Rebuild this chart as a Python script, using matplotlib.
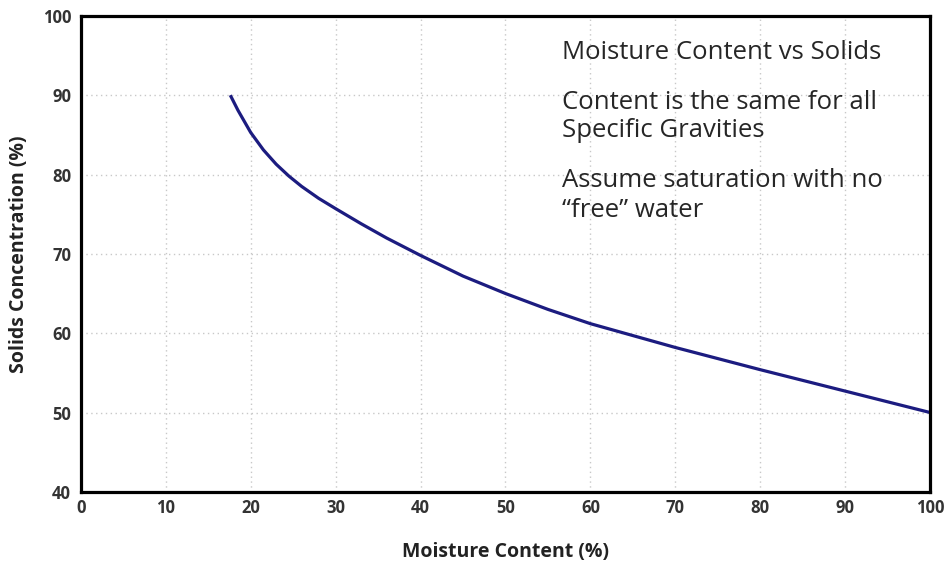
import numpy as np
import matplotlib.pyplot as plt

plt.rcParams['font.family'] = ['Open Sans', 'DejaVu Sans']

# values
moisture = [17.6, 18.5, 20, 21.5, 23, 24.5, 26, 28, 30, 33, 36, 40, 45, 50, 55, 60, 70, 80, 90, 100]
solids = [90, 88.1, 85.3, 83.1, 81.3, 79.8, 78.5, 77.0, 75.7, 73.8, 72.0, 69.8, 67.2, 65.0, 63.0, 61.2, 58.2, 55.4, 52.7, 50]

notes = ['Moisture Content vs Solids',
         'Content is the same for all',
         'Specific Gravities',
         'Assume saturation with no',
         '\u201cfree\u201d water']
note_y = [94.6, 88.3, 84.7, 78.4, 74.6]

fig = plt.figure(figsize=(9.51, 5.66), dpi=100)
ax = fig.add_axes([0.085, 0.131, 0.893, 0.841])

ax.plot(moisture, solids, color='#1c1c80', linewidth=2.3, solid_capstyle='butt', solid_joinstyle='round')

ax.set_xlim(0, 100)
ax.set_ylim(40, 100)
ax.set_xticks(np.arange(0, 101, 10))
ax.set_yticks(np.arange(40, 101, 10))
ax.grid(True, color='#c8c8c8', linestyle=(0, (1, 2.5)), linewidth=1)
ax.tick_params(length=0, labelsize=12, labelcolor='#333333')
ax.tick_params(axis='x', pad=5)
ax.tick_params(axis='y', pad=7)
for lab in ax.get_xticklabels() + ax.get_yticklabels():
    lab.set_fontweight('bold')

for s in ax.spines.values():
    s.set_linewidth(2.3)
    s.set_color('black')

ax.set_xlabel('Moisture Content (%)', fontsize=14, fontweight='bold', color='#222222', labelpad=18)
ax.set_ylabel('Solids Concentration (%)', fontsize=14, fontweight='bold', color='#222222', labelpad=10)

for t, y in zip(notes, note_y):
    ax.text(56.6, y, t, fontsize=18.5, color='#262626', va='baseline', ha='left')

fig.savefig('out.png', dpi=100)
